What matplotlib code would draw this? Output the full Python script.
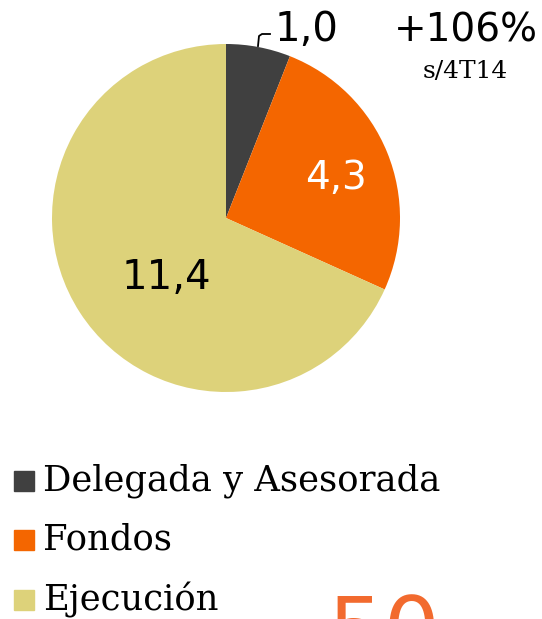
import matplotlib
matplotlib.use('Agg')
import matplotlib.pyplot as plt
from matplotlib.patches import Rectangle

labels = ['Delegada y Asesorada', 'Fondos', 'Ejecución']
values = [1.0, 4.3, 11.4]
value_labels = ['1,0', '4,3', '11,4']
colors = ['#404040', '#f46600', '#ddd27a']

W, H = 542, 619
fig = plt.figure(figsize=(W / 100, H / 100), dpi=100)

def px(x, y):
	return x / W, 1 - y / H

# pie, starting at 12 o'clock and going clockwise
cx, cy, r = 226, 218, 174
ax = fig.add_axes([(cx - r) / W, 1 - (cy + r) / H, 2 * r / W, 2 * r / H])
ax.pie(values, colors=colors, startangle=90, counterclock=False, radius=1,
	wedgeprops={'linewidth': 0})
ax.set_xlim(-1, 1)
ax.set_ylim(-1, 1)
ax.set_aspect('equal')
ax.axis('off')

numfont = 'DejaVu Sans'
fig.text(*px(275, 30), value_labels[0], fontsize=29, family=numfont, va='center', ha='left')
fig.text(*px(336, 178), value_labels[1], fontsize=28, family=numfont, va='center', ha='center', color='white')
fig.text(*px(166, 278), value_labels[2], fontsize=29, family=numfont, va='center', ha='center')

# leader line for the small slice
fig.add_artist(plt.Line2D([px(258, 0)[0], px(259, 0)[0], px(262, 0)[0], px(270, 0)[0]],
	[px(0, 46)[1], px(0, 36)[1], px(0, 34)[1], px(0, 34)[1]], color='black', lw=1.3))

fig.text(*px(466, 30), '+106%', fontsize=28, family=numfont, va='center', ha='center')
fig.text(*px(465, 71), 's/4T14', fontsize=18, family='DejaVu Serif', va='center', ha='center')

# legend
rows = [481, 540, 600]
for lab, col, y in zip(labels, colors, rows):
	fig.add_artist(Rectangle(px(14, y + 10), 20 / W, 20 / H, color=col, transform=fig.transFigure))
	fig.text(*px(43, y), lab, fontsize=25.5, family='DejaVu Serif', va='center', ha='left')

fig.text(*px(384, 636), '50', fontsize=64, family=numfont, va='center', ha='center', color='#f26a2e')

fig.savefig('out.png', dpi=100)
